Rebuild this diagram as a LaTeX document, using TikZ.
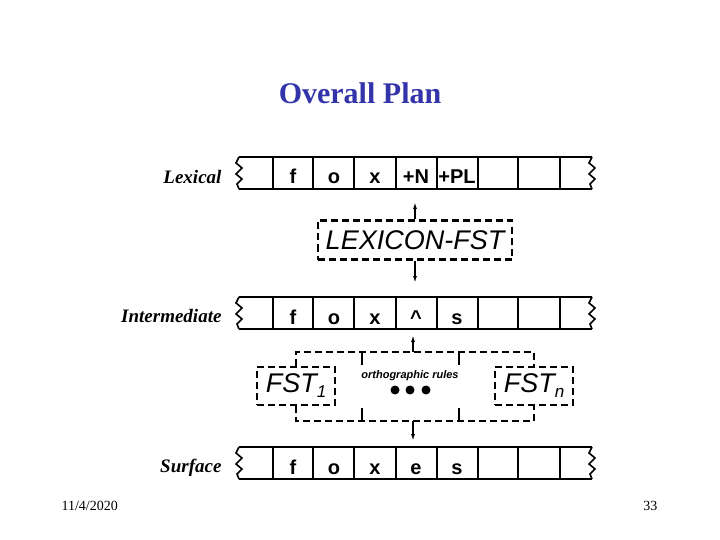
\documentclass[tikz,border=0pt]{standalone}
\usepackage{fontspec}
\setmainfont{Liberation Serif}
\setsansfont{Liberation Sans}
\usepackage{tikz}
\usetikzlibrary{arrows.meta}
\definecolor{titleblue}{RGB}{51,51,170}
\newcommand{\fstsub}[1]{\raisebox{-5pt}{\fontsize{17}{17}\selectfont #1}}

\begin{document}
\begin{tikzpicture}[x=1pt,y=-1pt,
  cell/.style={anchor=base,font=\sffamily\bfseries\fontsize{20}{20}\selectfont},
  level/.style={anchor=base east,font=\bfseries\itshape\fontsize{19}{19}\selectfont},
  fstbox/.style={draw,line width=2.2pt,dash pattern=on 7pt off 4pt,inner sep=0pt,
    font=\sffamily\itshape\fontsize{27}{27}\selectfont},
  frame/.style={line width=2.2pt,dash pattern=on 7pt off 4pt},
  link/.style={-{Latex[length=7pt,width=4pt]},line width=1.6pt}]
\useasboundingbox (0,0) rectangle (720,540);
\node[font=\bfseries\fontsize{30}{30}\selectfont,text=titleblue] (title) at (360,93) {Overall Plan};
\foreach \t in {157,297,447} {
  \draw[line width=2.2pt] (239,\t) -- (592,\t) (239,\t+32) -- (592,\t+32);
  \foreach \x in {273,313,354,396,437,478,518,560}
    \draw[line width=2.2pt] (\x,\t) -- (\x,\t+32);
  \draw[line width=1.6pt] (239,\t) -- (236,\t+6) -- (242,\t+11) -- (236,\t+17)
    -- (242,\t+22) -- (237,\t+27) -- (239,\t+32);
  \draw[line width=1.6pt] (592,\t) -- (589,\t+6) -- (595,\t+11) -- (589,\t+17)
    -- (595,\t+22) -- (590,\t+27) -- (592,\t+32);
}
\node[level] (lexical) at (225,184) {Lexical};
\node[level] (inter) at (225,322) {Intermediate};
\node[level] (surface) at (225,472) {Surface};
\foreach \c [count=\i] in {f,o,x,+N,+PL}
  \node[cell] (lex\i) at (252+41*\i,184) {\c};
\foreach \c [count=\i] in {f,o,x,\textasciicircum,s}
  \node[cell] (int\i) at (252+41*\i,324) {\c};
\foreach \c [count=\i] in {f,o,x,e,s}
  \node[cell] (srf\i) at (252+41*\i,474) {\c};
\node[fstbox,minimum width=194,minimum height=39] (lexfst) at (415,240) {LEXICON-FST};
\coordinate (lexbot) at (415,202);
\coordinate (inttop) at (415,283);
\draw[link] (lexfst) -- (lexbot);
\draw[link] (lexfst) -- (inttop);
\node[fstbox,minimum width=78,minimum height=38] (fst1) at (296,386) {FST\fstsub{1}};
\node[fstbox,minimum width=78,minimum height=38] (fstn) at (534,386) {FST\fstsub{n}};
\coordinate (frametop) at (413,352);
\coordinate (framebot) at (413,421);
\coordinate (intbot) at (413,335);
\coordinate (srftop) at (413,441);
\draw[frame] (fst1.north) |- (frametop) -| (fstn.north);
\draw[frame] (fst1.south) |- (framebot) -| (fstn.south);
\draw[line width=2.2pt] (362,352) -- (362,365) (459,352) -- (459,365)
  (362,408) -- (362,421) (459,408) -- (459,421);
\draw[link] (frametop) -- (intbot);
\draw[link] (framebot) -- (srftop);
\node[font=\sffamily\bfseries\itshape\fontsize{11}{11}\selectfont] (rules) at (410,376) {orthographic rules};
\foreach \x in {395,410,426}
  \fill (\x,390) circle (4.5);
\node[anchor=base west,font=\fontsize{14}{14}\selectfont] (date) at (58,510) {11/4/2020};
\node[anchor=base east,font=\fontsize{14}{14}\selectfont] (page) at (661,510) {33};
\end{tikzpicture}
\end{document}
